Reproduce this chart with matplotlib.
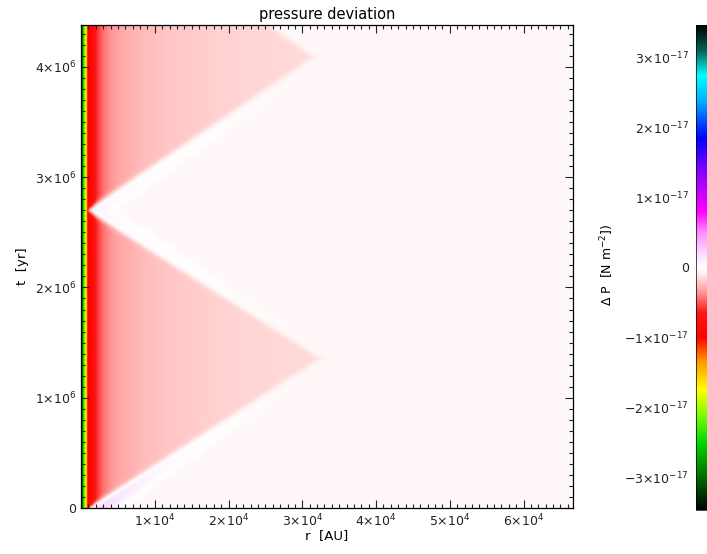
import numpy as np
import matplotlib.pyplot as plt
from matplotlib.colors import LinearSegmentedColormap
from matplotlib.ticker import MultipleLocator

# position of the disturbance front, r [AU] vs t [yr]
front_t = [0.0, 1.355e6, 2.70e6, 4.09e6, 4.40e6]
front_r = [1000.0, 32400.0, 700.0, 31500.0, 25000.0]

# inner boundary layer, dP in units of 1e-17 N m^-2
strip_r = [100, 250, 450, 600, 750, 900, 1050]
strip_dp = [-3.0, -2.5, -2.0, -1.7, -1.3, -0.8, 0.0]

# plateau inside the front
plat_r = [100, 900, 1400, 2000, 2800, 3800, 5000, 8000, 12000, 18000, 25000, 33000]
plat_dp = [-1.0, -1.0, -0.85, -0.62, -0.46, -0.37, -0.31, -0.25, -0.21, -0.18, -0.16, -0.15]

# weak positive rim just ahead of the front
rim_r = [500, 2000, 6000, 12000, 20000, 33000]
rim_dp = [0.1, 0.09, 0.07, 0.05, 0.03, 0.0]
rim_t = [0.0, 0.3e6, 1.0e6, 4.4e6]
rim_gain = [3.0, 1.6, 1.0, 1.0]

background_dp = -0.04

cbar_ticks = [-3, -2, -1, 0, 1, 2, 3]
cbar_labels = [r'$-3{\times}10^{-17}$', r'$-2{\times}10^{-17}$', r'$-1{\times}10^{-17}$', '0',
               r'$1{\times}10^{-17}$', r'$2{\times}10^{-17}$', r'$3{\times}10^{-17}$']
x_ticks = [1e4, 2e4, 3e4, 4e4, 5e4, 6e4]
x_labels = [r'$%d{\times}10^{4}$' % i for i in range(1, 7)]
y_ticks = [0, 1e6, 2e6, 3e6, 4e6]
y_labels = ['0'] + [r'$%d{\times}10^{6}$' % i for i in range(1, 5)]

r_max = 66700.0
t_max = 4.38e6
dp_lim = 3.47

# build the r-t map
r = np.linspace(100, r_max, 900)
t = np.linspace(0, t_max, 800)
R, T = np.meshgrid(r, t)
d = R - np.interp(T, front_t, front_r)
inside = 0.5 * (1 - np.tanh(d / 700.0))
plateau = np.interp(R, plat_r, plat_dp)
rim = (np.interp(R, rim_r, rim_dp) * np.interp(T, rim_t, rim_gain)
       * np.exp(-((d - 1500.0) / 2200.0) ** 2))
field = inside * plateau + (1 - inside) * (background_dp + rim)
field = np.minimum(field, np.interp(R, strip_r, strip_dp, right=10.0))

# colour table: black-green-yellow-red-white-magenta-blue-cyan-black
nodes = [
    (-3.47, (0.0, 0.0, 0.0)),
    (-3.0, (0.0, 0.42, 0.0)),
    (-2.5, (0.0, 0.85, 0.0)),
    (-2.1, (0.5, 1.0, 0.0)),
    (-1.75, (1.0, 1.0, 0.0)),
    (-1.35, (1.0, 0.6, 0.0)),
    (-1.0, (1.0, 0.0, 0.0)),
    (-0.65, (1.0, 0.08, 0.08)),
    (-0.35, (1.0, 0.6, 0.6)),
    (-0.1, (1.0, 0.92, 0.92)),
    (0.0, (1.0, 1.0, 1.0)),
    (0.15, (0.98, 0.9, 1.0)),
    (0.5, (1.0, 0.55, 1.0)),
    (0.8, (1.0, 0.0, 1.0)),
    (1.4, (0.5, 0.0, 1.0)),
    (1.85, (0.0, 0.0, 1.0)),
    (2.4, (0.0, 0.7, 1.0)),
    (2.75, (0.0, 1.0, 1.0)),
    (3.1, (0.0, 0.4, 0.35)),
    (3.47, (0.0, 0.0, 0.0)),
]
cmap = LinearSegmentedColormap.from_list(
    'dp', [((v + dp_lim) / (2 * dp_lim), c) for v, c in nodes], N=2048)

fig = plt.figure(figsize=(7.07, 5.54), dpi=100)
ax = fig.add_axes([81 / 707, 1 - 508 / 554, 492 / 707, 483 / 554])
im = ax.imshow(field, origin='lower', extent=[100, r_max, 0, t_max], aspect='auto',
               cmap=cmap, vmin=-dp_lim, vmax=dp_lim, interpolation='bilinear')
ax.set_xlim(0, r_max)
ax.set_ylim(0, t_max)
ax.set_xticks(x_ticks)
ax.set_xticklabels(x_labels)
ax.set_yticks(y_ticks)
ax.set_yticklabels(y_labels)
ax.xaxis.set_minor_locator(MultipleLocator(1000))
ax.yaxis.set_minor_locator(MultipleLocator(1e5))
ax.tick_params(which='both', direction='in', top=True, right=True, labelsize=9,
               colors='#222222', width=0.8)
ax.tick_params(which='major', length=6)
ax.tick_params(which='minor', length=3)
for s in ax.spines.values():
    s.set_linewidth(0.9)
ax.set_title('pressure deviation', fontsize=10.5, pad=4)
ax.set_xlabel('r  [AU]', fontsize=9.5, labelpad=0)
ax.set_ylabel('t  [yr]', fontsize=9.5, labelpad=4)

cax = fig.add_axes([696 / 707, 1 - 510 / 554, 12 / 707, 485 / 554])
cb = fig.colorbar(im, cax=cax)
cb.set_ticks(cbar_ticks)
cb.set_ticklabels(cbar_labels)
cax.yaxis.set_ticks_position('left')
cax.tick_params(length=0, labelsize=9, colors='#222222', pad=5)
cb.outline.set_linewidth(0.5)
fig.text(607 / 707, 1 - 265 / 554, r'$\Delta$ P  [N m$^{-2}$])', rotation=90,
         ha='center', va='center', fontsize=9)

fig.savefig('out.png', dpi=100)
